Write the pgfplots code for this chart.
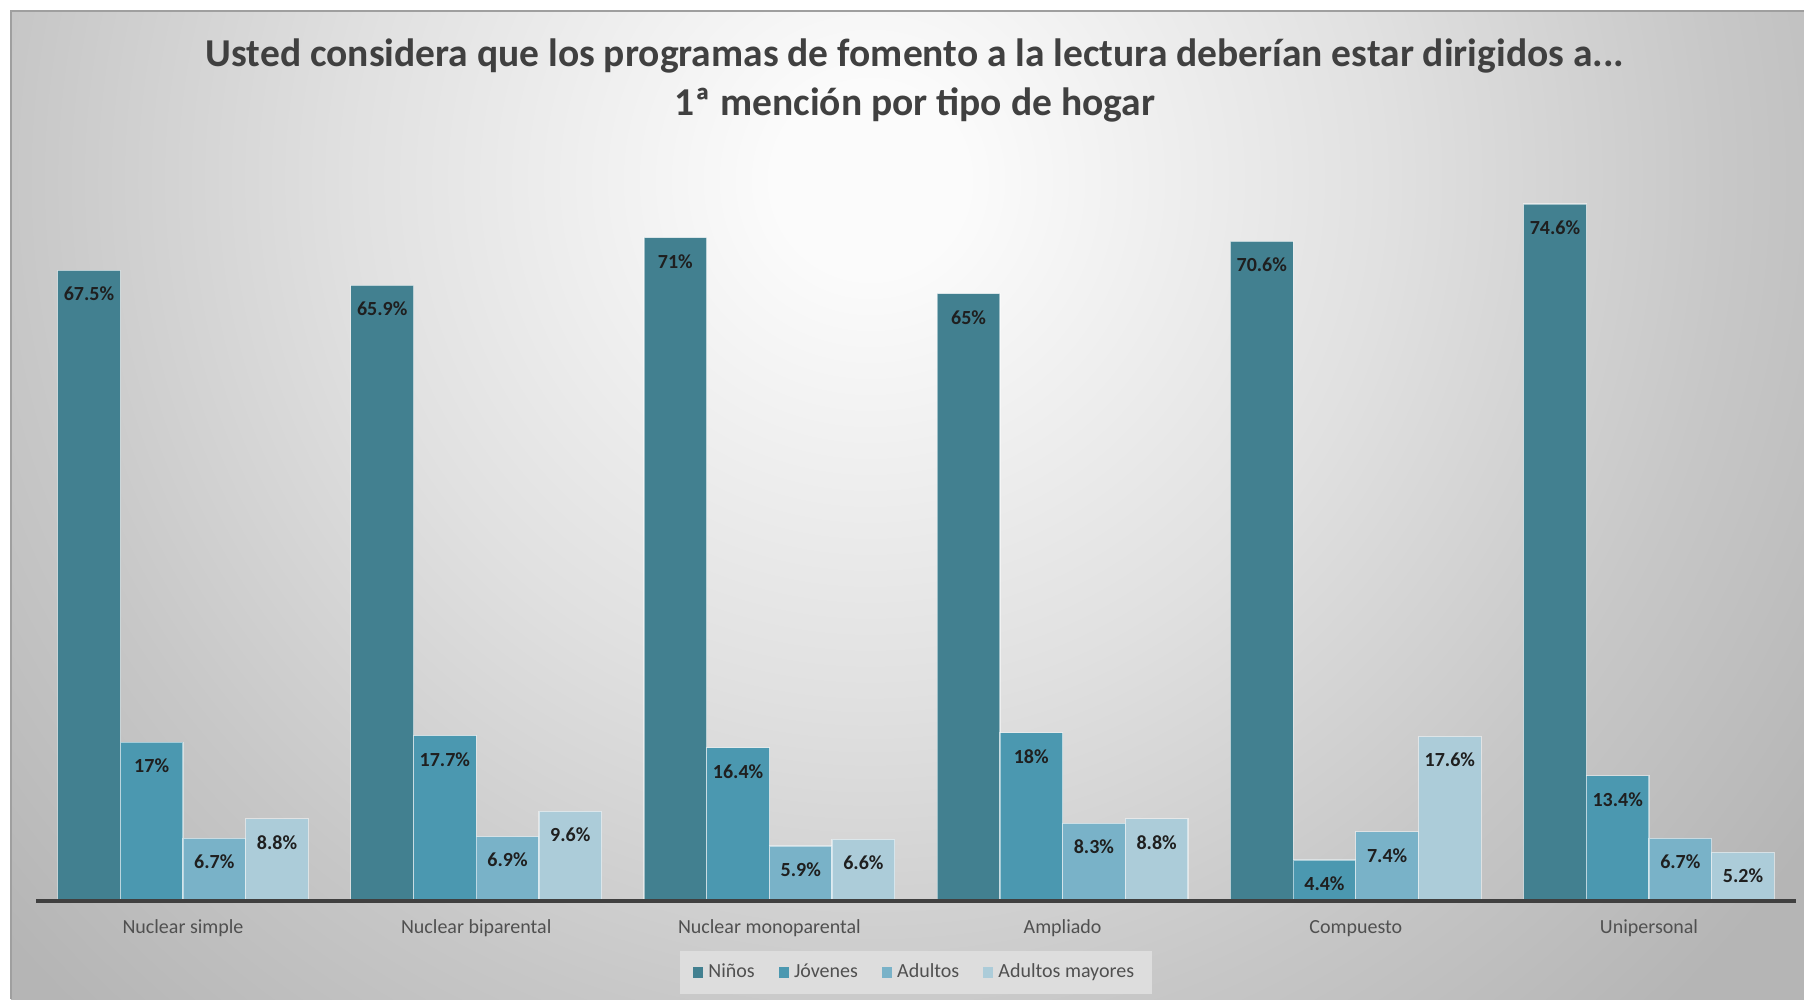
\documentclass[border=0pt]{standalone}
\usepackage{pgfplots}
\pgfplotsset{compat=1.18}
\usepackage{fontspec}
\setmainfont{Carlito}
\definecolor{cN}{RGB}{66,128,144}
\definecolor{cJ}{RGB}{75,152,176}
\definecolor{cA}{RGB}{121,178,200}
\definecolor{cM}{RGB}{172,204,217}
\definecolor{bg1}{gray}{0.985}
\definecolor{bg2}{gray}{0.88}
\definecolor{bg3}{gray}{0.78}
\definecolor{bg4}{gray}{0.71}
\definecolor{legbg}{gray}{0.865}
\definecolor{titlegray}{RGB}{64,64,64}
\definecolor{tickgray}{RGB}{80,80,80}
\pgfdeclareradialshading{bgshade}{\pgfpoint{0bp}{0bp}}{color(0bp)=(bg1); color(1bp)=(bg1); color(5.65bp)=(bg2); color(9.35bp)=(bg3); color(12.5bp)=(bg4); color(50bp)=(bg4)}
\pgfplotsset{ybar legend/.style={legend image code/.code={\fill[##1,draw=none] (0pt,-2.1pt) rectangle (4.2pt,2.1pt);}}}
\begin{document}
\begin{tikzpicture}
\fill[white] (-14.56pt,-39.2pt) rectangle (707.04pt,360.4pt);
\begin{scope}
\clip (-10.16pt,-39.2pt) rectangle (707.04pt,356pt);
\shade[shading=bgshade] (333.44pt,288.4pt) circle (920pt);
\end{scope}
\draw[gray!75, line width=0.6pt] (-10.16pt,-39.2pt) -- (-10.16pt,356pt) -- (707.04pt,356pt);
\node[anchor=base, font=\bfseries\fontsize{15.8}{19}\selectfont, text=titlegray] at (351.44pt,333.7pt) {Usted considera que los programas de fomento a la lectura deberían estar dirigidos a...};
\node[anchor=base, font=\bfseries\fontsize{15.8}{19}\selectfont, text=titlegray] at (351.44pt,314.4pt) {1ª mención por tipo de hogar};
\begin{axis}[
  at={(0pt,0pt)}, anchor=south west,
  scale only axis, width=703.68pt, height=298.98pt,
  xmin=-0.5, xmax=5.5, ymin=0, ymax=80,
  enlargelimits=false, clip=false,
  ybar=0pt, bar width=0.2138,
  axis x line=bottom, axis y line=none,
  x axis line style={draw=none},
  xtick={0,1,2,3,4,5},
  xticklabels={Nuclear simple, Nuclear biparental, Nuclear monoparental, Ampliado, Compuesto, Unipersonal},
  major tick length=0pt,
  xticklabel style={anchor=base, yshift=-12.8pt, font=\fontsize{8}{10}\selectfont, text=tickgray},
  nodes near coords={\pgfmathprintnumber[assume math mode=true]{\pgfplotspointmeta}\%},
  every node near coord/.append style={anchor=north, yshift=-6.4pt, inner sep=0pt, font=\bfseries\fontsize{8}{10}\selectfont, text=black!88},
  legend columns=4,
  legend style={at={(0.5,-0.0957)}, anchor=center, fill=legbg, draw=none,
    font=\fontsize{8}{10}\selectfont, text=tickgray, inner xsep=5pt, inner ysep=3pt,
    /tikz/every even column/.append style={column sep=7.5pt}},
]
\addplot[fill=cN, draw=white, draw opacity=0.5, line width=0.5pt] coordinates {(0,67.5) (1,65.9) (2,71) (3,65) (4,70.6) (5,74.6)};
\addplot[fill=cJ, draw=white, draw opacity=0.5, line width=0.5pt] coordinates {(0,17) (1,17.7) (2,16.4) (3,18) (4,4.4) (5,13.4)};
\addplot[fill=cA, draw=white, draw opacity=0.5, line width=0.5pt] coordinates {(0,6.7) (1,6.9) (2,5.9) (3,8.3) (4,7.4) (5,6.7)};
\addplot[fill=cM, draw=white, draw opacity=0.5, line width=0.5pt] coordinates {(0,8.8) (1,9.6) (2,6.6) (3,8.8) (4,17.6) (5,5.2)};
\legend{Niños, Jóvenes, Adultos, Adultos mayores}
\draw[black!75, line width=1.4pt] (axis cs:-0.5,0) -- (axis cs:5.5,0);
\end{axis}
\pgfresetboundingbox
\useasboundingbox (-14.56pt,-39.2pt) rectangle (707.04pt,360.4pt);
\end{tikzpicture}
\end{document}
